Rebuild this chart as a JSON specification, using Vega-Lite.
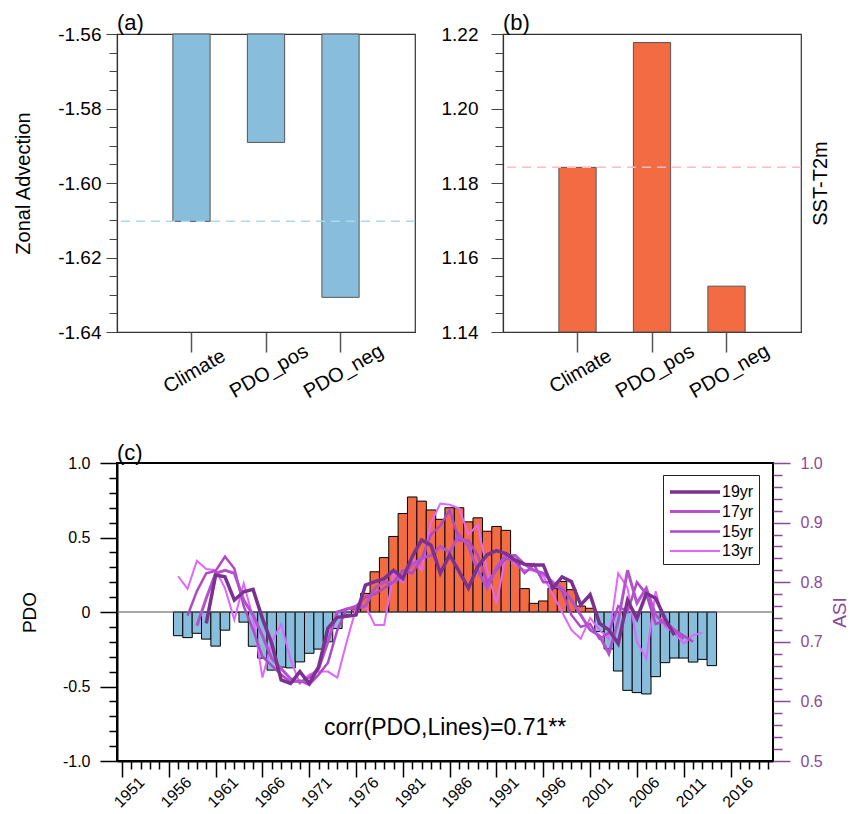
{
  "$schema": "https://vega.github.io/schema/vega-lite/v6.json",
  "padding": {"left": 13, "top": 11, "right": 5, "bottom": 0},
  "background": "white",
  "config": {
    "font": "Liberation Sans",
    "view": {"stroke": "#333", "strokeWidth": 1.2},
    "axis": {"grid": false, "labelFont": "Liberation Sans", "titleFont": "Liberation Sans", "titleFontWeight": "normal", "labelColor": "black", "titleColor": "black", "tickCount": 200},
    "title": {"font": "Liberation Sans", "fontWeight": "normal", "fontSize": 22, "anchor": "start", "frame": "group", "offset": -10, "color": "black"}
  },
  "bounds": "flush",
  "spacing": 429,
  "vconcat": [
    {
      "bounds": "flush",
      "spacing": 88,
      "hconcat": [
        {
          "width": 298,
          "height": 298,
          "title": {"text": "(a)"},
          "layer": [
            {
              "data": {"values": [
                {"case": "Climate", "zonal": -1.6103},
                {"case": "PDO_pos", "zonal": -1.5891},
                {"case": "PDO_neg", "zonal": -1.6307}
              ]},
              "mark": {"type": "bar", "fill": "#88bddb", "stroke": "#555", "strokeWidth": 1},
              "encoding": {
                "x": {"field": "case", "type": "nominal", "sort": ["Climate", "PDO_pos", "PDO_neg"],
                  "scale": {"paddingInner": 0.5, "paddingOuter": 0.75},
                  "axis": {"title": null, "labelAngle": -30, "labelAlign": "center", "labelBaseline": "middle", "labelFontSize": 20, "labelPadding": 19, "labelOffset": 3, "tickSize": 20, "tickColor": "#555", "tickWidth": 1.5, "domainColor": "#333", "domainWidth": 1.2}},
                "y": {"field": "zonal", "type": "quantitative",
                  "scale": {"domain": [-1.64, -1.56], "nice": false, "zero": false},
                  "axis": {"title": "Zonal Advection", "titleFontSize": 20, "titlePadding": 24,
                    "values": [-1.64, -1.635, -1.63, -1.625, -1.62, -1.615, -1.61, -1.605, -1.6, -1.595, -1.59, -1.585, -1.58, -1.575, -1.57, -1.565, -1.56],
                    "labelExpr": "abs(round(datum.value*50)-datum.value*50)<0.001 ? replace(format(datum.value,'.2f'),'\u2212','-') : ''",
                    "labelOverlap": false, "labelFlush": false, "labelFontSize": 19, "labelPadding": 5,
                    "tickSize": {"condition": {"test": "abs(round(datum.value*50)-datum.value*50)<0.001", "value": 11}, "value": 8},
                    "tickColor": "#444", "domainColor": "#333", "domainWidth": 1.2}},
                "y2": {"datum": -1.56}
              }
            },
            {
              "data": {"values": [{"ref": -1.6103}]},
              "mark": {"type": "rule", "stroke": "#a9dbeb", "strokeWidth": 1.5, "strokeDash": [9, 6]},
              "encoding": {"y": {"field": "ref", "type": "quantitative"}}
            }
          ]
        },
        {
          "width": 298,
          "height": 298,
          "title": {"text": "(b)"},
          "layer": [
            {
              "data": {"values": [
                {"case": "Climate", "diff": 1.1842},
                {"case": "PDO_pos", "diff": 1.2177},
                {"case": "PDO_neg", "diff": 1.1523}
              ]},
              "mark": {"type": "bar", "fill": "#f26b43", "stroke": "#555", "strokeWidth": 1},
              "encoding": {
                "x": {"field": "case", "type": "nominal", "sort": ["Climate", "PDO_pos", "PDO_neg"],
                  "scale": {"paddingInner": 0.5, "paddingOuter": 0.75},
                  "axis": {"title": null, "labelAngle": -30, "labelAlign": "center", "labelBaseline": "middle", "labelFontSize": 20, "labelPadding": 19, "labelOffset": 3, "tickSize": 20, "tickColor": "#555", "tickWidth": 1.5, "domainColor": "#333", "domainWidth": 1.2}},
                "y": {"field": "diff", "type": "quantitative",
                  "scale": {"domain": [1.14, 1.22], "nice": false, "zero": false},
                  "axis": {"title": null,
                    "values": [1.14, 1.145, 1.15, 1.155, 1.16, 1.165, 1.17, 1.175, 1.18, 1.185, 1.19, 1.195, 1.2, 1.205, 1.21, 1.215, 1.22],
                    "labelExpr": "abs(round(datum.value*50)-datum.value*50)<0.001 ? format(datum.value,'.2f') : ''",
                    "labelOverlap": false, "labelFlush": false, "labelFontSize": 19, "labelPadding": 13,
                    "tickSize": {"condition": {"test": "abs(round(datum.value*50)-datum.value*50)<0.001", "value": 12}, "value": 8},
                    "tickColor": "#444", "domainColor": "#333", "domainWidth": 1.2}},
                "y2": {"datum": 1.14}
              }
            },
            {
              "data": {"values": [{"ref": 1.1842}]},
              "mark": {"type": "rule", "stroke": "#ffbcc6", "strokeWidth": 1.5, "strokeDash": [9, 6]},
              "encoding": {"y": {"field": "ref", "type": "quantitative",
                "axis": {"orient": "right", "title": "SST-T2m", "titleFontSize": 20, "titleAngle": -90, "titlePadding": 29, "labels": false, "ticks": false, "domain": false}}}
            }
          ],
          "resolve": {"axis": {"y": "independent"}}
        }
      ]
    },
    {
      "width": 656,
      "height": 298,
      "title": {"text": "(c)"},
      "view": {"stroke": "black", "strokeWidth": 2},
      "layer": [
        {
          "layer": [
            {
              "data": {"values": [
                {"year": 1957, "pdo": -0.159}, {"year": 1958, "pdo": -0.172}, {"year": 1959, "pdo": -0.143},
                {"year": 1960, "pdo": -0.182}, {"year": 1961, "pdo": -0.229}, {"year": 1962, "pdo": -0.122},
                {"year": 1963, "pdo": -0.004}, {"year": 1964, "pdo": -0.068}, {"year": 1965, "pdo": -0.23},
                {"year": 1966, "pdo": -0.31}, {"year": 1967, "pdo": -0.39}, {"year": 1968, "pdo": -0.37},
                {"year": 1969, "pdo": -0.375}, {"year": 1970, "pdo": -0.335}, {"year": 1971, "pdo": -0.277},
                {"year": 1972, "pdo": -0.249}, {"year": 1973, "pdo": -0.2}, {"year": 1974, "pdo": -0.111},
                {"year": 1975, "pdo": -0.02}, {"year": 1976, "pdo": 0.02}, {"year": 1977, "pdo": 0.125},
                {"year": 1978, "pdo": 0.27}, {"year": 1979, "pdo": 0.365}, {"year": 1980, "pdo": 0.507},
                {"year": 1981, "pdo": 0.661}, {"year": 1982, "pdo": 0.772}, {"year": 1983, "pdo": 0.744},
                {"year": 1984, "pdo": 0.685}, {"year": 1985, "pdo": 0.622}, {"year": 1986, "pdo": 0.7},
                {"year": 1987, "pdo": 0.7}, {"year": 1988, "pdo": 0.605}, {"year": 1989, "pdo": 0.632},
                {"year": 1990, "pdo": 0.542}, {"year": 1991, "pdo": 0.574}, {"year": 1992, "pdo": 0.548},
                {"year": 1993, "pdo": 0.35}, {"year": 1994, "pdo": 0.157}, {"year": 1995, "pdo": 0.058},
                {"year": 1996, "pdo": 0.074}, {"year": 1997, "pdo": 0.16}, {"year": 1998, "pdo": 0.205},
                {"year": 1999, "pdo": 0.15}, {"year": 2000, "pdo": 0.04}, {"year": 2001, "pdo": 0.025},
                {"year": 2002, "pdo": -0.132}, {"year": 2003, "pdo": -0.248}, {"year": 2004, "pdo": -0.396},
                {"year": 2005, "pdo": -0.526}, {"year": 2006, "pdo": -0.541}, {"year": 2007, "pdo": -0.55},
                {"year": 2008, "pdo": -0.434}, {"year": 2009, "pdo": -0.34}, {"year": 2010, "pdo": -0.309},
                {"year": 2011, "pdo": -0.309}, {"year": 2012, "pdo": -0.336}, {"year": 2013, "pdo": -0.318},
                {"year": 2014, "pdo": -0.36}
              ]},
              "mark": {"type": "bar", "width": 9.5, "stroke": "black", "strokeWidth": 1},
              "encoding": {
                "x": {"field": "year", "type": "quantitative",
                  "scale": {"domain": [1951, 2020], "nice": false, "zero": false},
                  "axis": {"title": null,
                    "values": [1951, 1952, 1953, 1954, 1955, 1956, 1957, 1958, 1959, 1960, 1961, 1962, 1963, 1964, 1965, 1966, 1967, 1968, 1969, 1970, 1971, 1972, 1973, 1974, 1975, 1976, 1977, 1978, 1979, 1980, 1981, 1982, 1983, 1984, 1985, 1986, 1987, 1988, 1989, 1990, 1991, 1992, 1993, 1994, 1995, 1996, 1997, 1998, 1999, 2000, 2001, 2002, 2003, 2004, 2005, 2006, 2007, 2008, 2009, 2010, 2011, 2012, 2013, 2014, 2015, 2016, 2017, 2018, 2019, 2020],
                    "labelExpr": "(datum.value-1951)%5==0 ? toString(datum.value) : ''",
                    "labelOverlap": false, "labelFlush": false, "labelAngle": -45, "labelAlign": "center", "labelBaseline": "middle",
                    "labelFontSize": 16, "labelPadding": 15, "labelOffset": 7,
                    "tickSize": {"condition": {"test": "(datum.value-1951)%5==0", "value": 16}, "value": 8},
                    "tickColor": "black", "tickWidth": 1.5, "domainColor": "black", "domainWidth": 2}},
                "y": {"field": "pdo", "type": "quantitative",
                  "scale": {"domain": [-1, 1], "nice": false},
                  "axis": {"title": "PDO", "titleFontSize": 19, "titlePadding": 23,
                    "values": [-1, -0.9, -0.8, -0.7, -0.6, -0.5, -0.4, -0.3, -0.2, -0.1, 0, 0.1, 0.2, 0.3, 0.4, 0.5, 0.6, 0.7, 0.8, 0.9, 1],
                    "labelExpr": "abs(round(datum.value*2)-datum.value*2)<0.001 ? (datum.value==0 ? '0' : replace(format(datum.value,'.1f'),'\u2212','-')) : ''",
                    "labelOverlap": false, "labelFlush": false, "labelFontSize": 16, "labelPadding": 10,
                    "tickSize": {"condition": {"test": "abs(round(datum.value*2)-datum.value*2)<0.001", "value": 17}, "value": 8},
                    "tickColor": "black", "tickWidth": 1.5, "domainColor": "black", "domainWidth": 2}},
                "fill": {"condition": {"test": "datum.pdo > 0", "value": "#f26b43"}, "value": "#88bddb"}
              }
            },
            {
              "data": {"values": [{"ref": 0}]},
              "mark": {"type": "rule", "stroke": "#555", "strokeWidth": 1.2},
              "encoding": {"y": {"field": "ref", "type": "quantitative"}}
            },
            {
              "data": {"values": [{"label": "corr(PDO,Lines)=0.71**"}]},
              "mark": {"type": "text", "fontSize": 23, "align": "center", "baseline": "middle", "color": "black"},
              "encoding": {
                "x": {"datum": 1985.5, "type": "quantitative"},
                "y": {"datum": -0.78, "type": "quantitative"},
                "text": {"field": "label"}
              }
            }
          ]
        },
        {
          "data": {"values": [
            {"series": "13yr", "year": 1957, "asi": 0.81}, {"series": "13yr", "year": 1958, "asi": 0.789}, {"series": "13yr", "year": 1959, "asi": 0.836},
            {"series": "13yr", "year": 1960, "asi": 0.822}, {"series": "13yr", "year": 1961, "asi": 0.82}, {"series": "13yr", "year": 1962, "asi": 0.79},
            {"series": "13yr", "year": 1963, "asi": 0.737}, {"series": "13yr", "year": 1964, "asi": 0.798}, {"series": "13yr", "year": 1965, "asi": 0.74},
            {"series": "13yr", "year": 1966, "asi": 0.64}, {"series": "13yr", "year": 1967, "asi": 0.7}, {"series": "13yr", "year": 1968, "asi": 0.73},
            {"series": "13yr", "year": 1969, "asi": 0.67}, {"series": "13yr", "year": 1970, "asi": 0.63}, {"series": "13yr", "year": 1971, "asi": 0.645},
            {"series": "13yr", "year": 1972, "asi": 0.65}, {"series": "13yr", "year": 1973, "asi": 0.65}, {"series": "13yr", "year": 1974, "asi": 0.64},
            {"series": "13yr", "year": 1975, "asi": 0.7}, {"series": "13yr", "year": 1976, "asi": 0.756}, {"series": "13yr", "year": 1977, "asi": 0.76},
            {"series": "13yr", "year": 1978, "asi": 0.728}, {"series": "13yr", "year": 1979, "asi": 0.728}, {"series": "13yr", "year": 1980, "asi": 0.815},
            {"series": "13yr", "year": 1981, "asi": 0.8}, {"series": "13yr", "year": 1982, "asi": 0.84}, {"series": "13yr", "year": 1983, "asi": 0.82},
            {"series": "13yr", "year": 1984, "asi": 0.9}, {"series": "13yr", "year": 1985, "asi": 0.932}, {"series": "13yr", "year": 1986, "asi": 0.93},
            {"series": "13yr", "year": 1987, "asi": 0.924}, {"series": "13yr", "year": 1988, "asi": 0.88}, {"series": "13yr", "year": 1989, "asi": 0.896},
            {"series": "13yr", "year": 1990, "asi": 0.82}, {"series": "13yr", "year": 1991, "asi": 0.764}, {"series": "13yr", "year": 1992, "asi": 0.846},
            {"series": "13yr", "year": 1993, "asi": 0.83}, {"series": "13yr", "year": 1994, "asi": 0.82}, {"series": "13yr", "year": 1995, "asi": 0.82},
            {"series": "13yr", "year": 1996, "asi": 0.81}, {"series": "13yr", "year": 1997, "asi": 0.78}, {"series": "13yr", "year": 1998, "asi": 0.75},
            {"series": "13yr", "year": 1999, "asi": 0.72}, {"series": "13yr", "year": 2000, "asi": 0.705}, {"series": "13yr", "year": 2001, "asi": 0.74},
            {"series": "13yr", "year": 2002, "asi": 0.72}, {"series": "13yr", "year": 2003, "asi": 0.705}, {"series": "13yr", "year": 2004, "asi": 0.815},
            {"series": "13yr", "year": 2005, "asi": 0.79}, {"series": "13yr", "year": 2006, "asi": 0.7}, {"series": "13yr", "year": 2007, "asi": 0.672},
            {"series": "13yr", "year": 2008, "asi": 0.785}, {"series": "13yr", "year": 2009, "asi": 0.725}, {"series": "13yr", "year": 2010, "asi": 0.715},
            {"series": "13yr", "year": 2011, "asi": 0.697}, {"series": "13yr", "year": 2012, "asi": 0.711}, {"series": "13yr", "year": 2013, "asi": 0.715},

            {"series": "15yr", "year": 1958, "asi": 0.744}, {"series": "15yr", "year": 1959, "asi": 0.785}, {"series": "15yr", "year": 1960, "asi": 0.815},
            {"series": "15yr", "year": 1961, "asi": 0.819}, {"series": "15yr", "year": 1962, "asi": 0.843}, {"series": "15yr", "year": 1963, "asi": 0.823},
            {"series": "15yr", "year": 1964, "asi": 0.76}, {"series": "15yr", "year": 1965, "asi": 0.72}, {"series": "15yr", "year": 1966, "asi": 0.675},
            {"series": "15yr", "year": 1967, "asi": 0.66}, {"series": "15yr", "year": 1968, "asi": 0.645}, {"series": "15yr", "year": 1969, "asi": 0.632},
            {"series": "15yr", "year": 1970, "asi": 0.635}, {"series": "15yr", "year": 1971, "asi": 0.628}, {"series": "15yr", "year": 1972, "asi": 0.645},
            {"series": "15yr", "year": 1973, "asi": 0.665}, {"series": "15yr", "year": 1974, "asi": 0.72}, {"series": "15yr", "year": 1975, "asi": 0.755},
            {"series": "15yr", "year": 1976, "asi": 0.76}, {"series": "15yr", "year": 1977, "asi": 0.775}, {"series": "15yr", "year": 1978, "asi": 0.78},
            {"series": "15yr", "year": 1979, "asi": 0.79}, {"series": "15yr", "year": 1980, "asi": 0.8}, {"series": "15yr", "year": 1981, "asi": 0.82},
            {"series": "15yr", "year": 1982, "asi": 0.815}, {"series": "15yr", "year": 1983, "asi": 0.84}, {"series": "15yr", "year": 1984, "asi": 0.88},
            {"series": "15yr", "year": 1985, "asi": 0.895}, {"series": "15yr", "year": 1986, "asi": 0.921}, {"series": "15yr", "year": 1987, "asi": 0.87},
            {"series": "15yr", "year": 1988, "asi": 0.87}, {"series": "15yr", "year": 1989, "asi": 0.845}, {"series": "15yr", "year": 1990, "asi": 0.8},
            {"series": "15yr", "year": 1991, "asi": 0.82}, {"series": "15yr", "year": 1992, "asi": 0.84}, {"series": "15yr", "year": 1993, "asi": 0.835},
            {"series": "15yr", "year": 1994, "asi": 0.815}, {"series": "15yr", "year": 1995, "asi": 0.83}, {"series": "15yr", "year": 1996, "asi": 0.8},
            {"series": "15yr", "year": 1997, "asi": 0.8}, {"series": "15yr", "year": 1998, "asi": 0.785}, {"series": "15yr", "year": 1999, "asi": 0.745},
            {"series": "15yr", "year": 2000, "asi": 0.725}, {"series": "15yr", "year": 2001, "asi": 0.73}, {"series": "15yr", "year": 2002, "asi": 0.705},
            {"series": "15yr", "year": 2003, "asi": 0.715}, {"series": "15yr", "year": 2004, "asi": 0.76}, {"series": "15yr", "year": 2005, "asi": 0.75},
            {"series": "15yr", "year": 2006, "asi": 0.8}, {"series": "15yr", "year": 2007, "asi": 0.78}, {"series": "15yr", "year": 2008, "asi": 0.73},
            {"series": "15yr", "year": 2009, "asi": 0.735}, {"series": "15yr", "year": 2010, "asi": 0.72}, {"series": "15yr", "year": 2011, "asi": 0.71},
            {"series": "15yr", "year": 2012, "asi": 0.7},

            {"series": "17yr", "year": 1959, "asi": 0.727}, {"series": "17yr", "year": 1960, "asi": 0.773}, {"series": "17yr", "year": 1961, "asi": 0.815},
            {"series": "17yr", "year": 1962, "asi": 0.82}, {"series": "17yr", "year": 1963, "asi": 0.815}, {"series": "17yr", "year": 1964, "asi": 0.77},
            {"series": "17yr", "year": 1965, "asi": 0.745}, {"series": "17yr", "year": 1966, "asi": 0.71}, {"series": "17yr", "year": 1967, "asi": 0.672},
            {"series": "17yr", "year": 1968, "asi": 0.655}, {"series": "17yr", "year": 1969, "asi": 0.638}, {"series": "17yr", "year": 1970, "asi": 0.632},
            {"series": "17yr", "year": 1971, "asi": 0.64}, {"series": "17yr", "year": 1972, "asi": 0.655}, {"series": "17yr", "year": 1973, "asi": 0.7},
            {"series": "17yr", "year": 1974, "asi": 0.75}, {"series": "17yr", "year": 1975, "asi": 0.755}, {"series": "17yr", "year": 1976, "asi": 0.757},
            {"series": "17yr", "year": 1977, "asi": 0.76}, {"series": "17yr", "year": 1978, "asi": 0.79}, {"series": "17yr", "year": 1979, "asi": 0.8},
            {"series": "17yr", "year": 1980, "asi": 0.8}, {"series": "17yr", "year": 1981, "asi": 0.81}, {"series": "17yr", "year": 1982, "asi": 0.83},
            {"series": "17yr", "year": 1983, "asi": 0.84}, {"series": "17yr", "year": 1984, "asi": 0.845}, {"series": "17yr", "year": 1985, "asi": 0.86},
            {"series": "17yr", "year": 1986, "asi": 0.85}, {"series": "17yr", "year": 1987, "asi": 0.88}, {"series": "17yr", "year": 1988, "asi": 0.86},
            {"series": "17yr", "year": 1989, "asi": 0.82}, {"series": "17yr", "year": 1990, "asi": 0.79}, {"series": "17yr", "year": 1991, "asi": 0.825},
            {"series": "17yr", "year": 1992, "asi": 0.845}, {"series": "17yr", "year": 1993, "asi": 0.845}, {"series": "17yr", "year": 1994, "asi": 0.83},
            {"series": "17yr", "year": 1995, "asi": 0.82}, {"series": "17yr", "year": 1996, "asi": 0.815}, {"series": "17yr", "year": 1997, "asi": 0.8},
            {"series": "17yr", "year": 1998, "asi": 0.79}, {"series": "17yr", "year": 1999, "asi": 0.77}, {"series": "17yr", "year": 2000, "asi": 0.745},
            {"series": "17yr", "year": 2001, "asi": 0.72}, {"series": "17yr", "year": 2002, "asi": 0.71}, {"series": "17yr", "year": 2003, "asi": 0.68},
            {"series": "17yr", "year": 2004, "asi": 0.735}, {"series": "17yr", "year": 2005, "asi": 0.82}, {"series": "17yr", "year": 2006, "asi": 0.765},
            {"series": "17yr", "year": 2007, "asi": 0.79}, {"series": "17yr", "year": 2008, "asi": 0.745}, {"series": "17yr", "year": 2009, "asi": 0.73},
            {"series": "17yr", "year": 2010, "asi": 0.72}, {"series": "17yr", "year": 2011, "asi": 0.705},

            {"series": "19yr", "year": 1960, "asi": 0.731}, {"series": "19yr", "year": 1961, "asi": 0.812}, {"series": "19yr", "year": 1962, "asi": 0.809},
            {"series": "19yr", "year": 1963, "asi": 0.77}, {"series": "19yr", "year": 1964, "asi": 0.784}, {"series": "19yr", "year": 1965, "asi": 0.788},
            {"series": "19yr", "year": 1966, "asi": 0.739}, {"series": "19yr", "year": 1967, "asi": 0.697}, {"series": "19yr", "year": 1968, "asi": 0.636},
            {"series": "19yr", "year": 1969, "asi": 0.63}, {"series": "19yr", "year": 1970, "asi": 0.65}, {"series": "19yr", "year": 1971, "asi": 0.63},
            {"series": "19yr", "year": 1972, "asi": 0.658}, {"series": "19yr", "year": 1973, "asi": 0.723}, {"series": "19yr", "year": 1974, "asi": 0.741},
            {"series": "19yr", "year": 1975, "asi": 0.743}, {"series": "19yr", "year": 1976, "asi": 0.745}, {"series": "19yr", "year": 1977, "asi": 0.795},
            {"series": "19yr", "year": 1978, "asi": 0.801}, {"series": "19yr", "year": 1979, "asi": 0.806}, {"series": "19yr", "year": 1980, "asi": 0.82},
            {"series": "19yr", "year": 1981, "asi": 0.806}, {"series": "19yr", "year": 1982, "asi": 0.843}, {"series": "19yr", "year": 1983, "asi": 0.871},
            {"series": "19yr", "year": 1984, "asi": 0.862}, {"series": "19yr", "year": 1985, "asi": 0.815}, {"series": "19yr", "year": 1986, "asi": 0.846},
            {"series": "19yr", "year": 1987, "asi": 0.818}, {"series": "19yr", "year": 1988, "asi": 0.79}, {"series": "19yr", "year": 1989, "asi": 0.826},
            {"series": "19yr", "year": 1990, "asi": 0.846}, {"series": "19yr", "year": 1991, "asi": 0.853}, {"series": "19yr", "year": 1992, "asi": 0.848},
            {"series": "19yr", "year": 1993, "asi": 0.837}, {"series": "19yr", "year": 1994, "asi": 0.83}, {"series": "19yr", "year": 1995, "asi": 0.829},
            {"series": "19yr", "year": 1996, "asi": 0.829}, {"series": "19yr", "year": 1997, "asi": 0.79}, {"series": "19yr", "year": 1998, "asi": 0.809},
            {"series": "19yr", "year": 1999, "asi": 0.801}, {"series": "19yr", "year": 2000, "asi": 0.762}, {"series": "19yr", "year": 2001, "asi": 0.779},
            {"series": "19yr", "year": 2002, "asi": 0.731}, {"series": "19yr", "year": 2003, "asi": 0.72}, {"series": "19yr", "year": 2004, "asi": 0.697},
            {"series": "19yr", "year": 2005, "asi": 0.77}, {"series": "19yr", "year": 2006, "asi": 0.739}, {"series": "19yr", "year": 2007, "asi": 0.781},
            {"series": "19yr", "year": 2008, "asi": 0.773}, {"series": "19yr", "year": 2009, "asi": 0.739}, {"series": "19yr", "year": 2010, "asi": 0.711}
          ]},
          "mark": {"type": "line", "strokeJoin": "miter"},
          "encoding": {
            "x": {"field": "year", "type": "quantitative"},
            "y": {"field": "asi", "type": "quantitative",
              "scale": {"domain": [0.5, 1.0], "nice": false, "zero": false},
              "axis": {"orient": "right", "title": "ASI", "titleFontSize": 19, "titleColor": "#8a4a9c", "titleAngle": -90, "titlePadding": 27,
                "values": [0.5, 0.52, 0.54, 0.56, 0.58, 0.6, 0.62, 0.64, 0.66, 0.68, 0.7, 0.72, 0.74, 0.76, 0.78, 0.8, 0.82, 0.84, 0.86, 0.88, 0.9, 0.92, 0.94, 0.96, 0.98, 1.0],
                "labelExpr": "abs(round(datum.value*10)-datum.value*10)<0.001 ? format(datum.value,'.1f') : ''",
                "labelOverlap": false, "labelFlush": false, "labelFontSize": 16, "labelColor": "#8a4a9c", "labelPadding": 10,
                "tickSize": {"condition": {"test": "abs(round(datum.value*10)-datum.value*10)<0.001", "value": 17}, "value": 9},
                "tickColor": "#8a4a9c", "tickWidth": 1.5, "domain": false}},
            "color": {"field": "series", "type": "nominal",
              "scale": {"domain": ["19yr", "17yr", "15yr", "13yr"], "range": ["#7b3190", "#b452cd", "#b048c8", "#e066ff"]},
              "legend": {"orient": "none", "legendX": 546, "legendY": 441, "title": null, "symbolType": "M-1,0H4", "symbolSize": 400,
                "labelFontSize": 16, "labelOffset": 30, "strokeColor": "#222", "fillColor": "white", "padding": 5, "rowPadding": 0}},
            "strokeWidth": {"field": "series", "type": "ordinal",
              "scale": {"domain": ["19yr", "17yr", "15yr", "13yr"], "range": [3.5, 2], "padding": 0}}
          }
        }
      ],
      "resolve": {"scale": {"y": "independent"}}
    }
  ]
}
